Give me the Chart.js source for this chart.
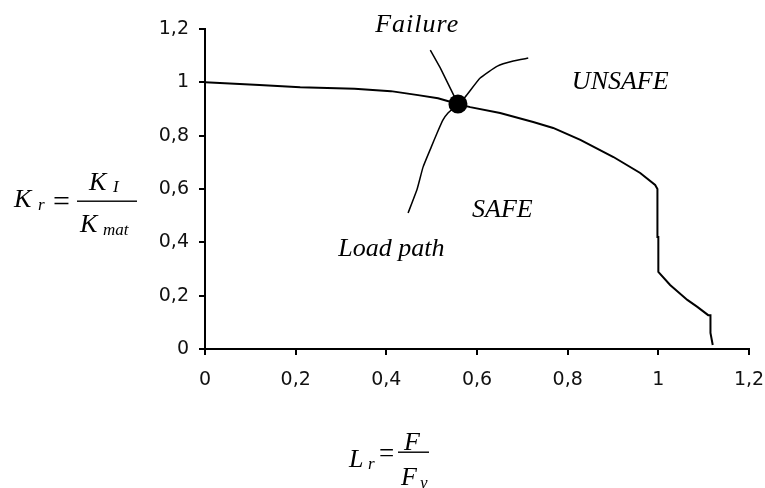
<!DOCTYPE html>
<html><head><meta charset="utf-8">
<script src="https://cdn.jsdelivr.net/npm/chart.js@4"></script>
<style>html,body{margin:0;padding:0;background:#fff;} canvas{display:block;}</style>
</head><body>
<canvas id="c" width="765" height="488"></canvas>
<script>
// Failure assessment diagram (FAD) curve
const fadL = [0, 0.12, 0.21, 0.33, 0.41, 0.47, 0.514, 0.558, 0.585, 0.651, 0.724, 0.768, 0.828, 0.901, 0.96, 0.993, 0.998, 0.998, 1.0, 1.0, 1.026, 1.064, 1.086, 1.11, 1.115, 1.115, 1.12];
const fadK = [1, 0.99, 0.982, 0.976, 0.967, 0.952, 0.94, 0.919, 0.907, 0.885, 0.851, 0.829, 0.784, 0.72, 0.66, 0.615, 0.6, 0.42, 0.42, 0.289, 0.24, 0.184, 0.158, 0.127, 0.127, 0.06, 0.015];
// Load path
const loadL = [0.448, 0.468, 0.481, 0.499, 0.512, 0.525, 0.536, 0.558, 0.574, 0.607, 0.645, 0.68, 0.713];
const loadK = [0.51, 0.60, 0.682, 0.757, 0.81, 0.859, 0.885, 0.919, 0.945, 1.016, 1.061, 1.08, 1.091];
// Failure pointer line
const failureL = [0.497, 0.519, 0.545, 0.558];
const failureK = [1.121, 1.054, 0.964, 0.919];
// Failure point
const failurePointL = [0.558];
const failurePointK = [0.919];
// Tick labels
const xTickLabels = ['0', '0,2', '0,4', '0,6', '0,8', '1', '1,2'];
const yTickLabels = ['0', '0,2', '0,4', '0,6', '0,8', '1', '1,2'];
// Region annotations (text, anchor in data units)
const regionTexts = ['Failure', 'UNSAFE', 'SAFE', 'Load path'];
const regionL = [0.468, 0.916, 0.656, 0.411];
const regionK = [1.189, 0.975, 0.495, 0.349];

const pts = (xs, ys) => xs.map((x, i) => ({x: x, y: ys[i]}));
const SERIF = '"Liberation Serif", "Times New Roman", serif';
const SANS = '"DejaVu Sans", Verdana, sans-serif';

const annotationPlugin = {
  id: 'annotations',
  afterDraw(chart) {
    const ctx = chart.ctx;
    const xs = chart.scales.x, ys = chart.scales.y;
    ctx.save();
    ctx.fillStyle = '#000';
    ctx.textBaseline = 'alphabetic';
    ctx.textAlign = 'center';
    ctx.font = 'italic 26px ' + SERIF;
    regionTexts.forEach((t, i) => {
      ctx.letterSpacing = (t === 'Failure') ? '1px' : '0px';
      ctx.fillText(t, xs.getPixelForValue(regionL[i]), ys.getPixelForValue(regionK[i]));
    });
    ctx.letterSpacing = '0px';
    // axis title formulas
    ctx.textAlign = 'left';
    const put = (s, x, y, size, italic) => {
      ctx.font = (italic ? 'italic ' : '') + size + 'px ' + SERIF;
      ctx.fillText(s, x, y);
    };
    // K_r = K_I / K_mat
    put('K', 14, 207, 26, true);
    put('r', 38, 210, 17, true);
    put('=', 53, 211, 30, false);
    ctx.fillRect(77, 200.5, 60, 1.4);
    put('K', 89, 190, 26, true);
    put('I', 113, 192, 17, true);
    put('K', 80, 232, 26, true);
    put('mat', 103, 235, 17, true);
    // L_r = F / F_y
    put('L', 349, 467, 26, true);
    put('r', 368, 469, 17, true);
    put('=', 379, 462, 27, false);
    ctx.fillRect(398, 451.5, 31, 1.4);
    put('F', 404, 450, 26, true);
    put('F', 401, 485, 26, true);
    put('y', 420, 488, 17, true);
    ctx.restore();
  }
};

const axisCommon = {
  type: 'linear',
  min: 0,
  max: 1.2,
  border: {display: true, color: '#000', width: 2},
  grid: {display: true, drawOnChartArea: false, drawTicks: true, tickLength: 6, color: '#000', lineWidth: 2},
};

new Chart(document.getElementById('c'), {
  type: 'scatter',
  data: {
    datasets: [
      {data: pts(fadL, fadK), showLine: true, borderColor: '#000', borderWidth: 2, pointRadius: 0, tension: 0},
      {data: pts(loadL, loadK), showLine: true, borderColor: '#000', borderWidth: 1.5, pointRadius: 0, tension: 0.15},
      {data: pts(failureL, failureK), showLine: true, borderColor: '#000', borderWidth: 1.5, pointRadius: 0, tension: 0},
      {data: pts(failurePointL, failurePointK), showLine: false, pointRadius: 9.5, pointBackgroundColor: '#000', pointBorderColor: '#000', pointBorderWidth: 0}
    ]
  },
  options: {
    responsive: false,
    animation: false,
    devicePixelRatio: 1,
    layout: {padding: {top: 29, right: 16, left: 0, bottom: 0}},
    plugins: {legend: {display: false}, tooltip: {enabled: false}},
    scales: {
      x: Object.assign({}, axisCommon, {
        position: 'bottom',
        ticks: {stepSize: 0.2, padding: 14, color: '#111', font: {family: SANS, size: 19},
          maxRotation: 0, autoSkip: false, callback: (v, i) => xTickLabels[i]},
        afterFit: (s) => { s.height = 139; s.paddingLeft = 0; s.paddingRight = 0; }
      }),
      y: Object.assign({}, axisCommon, {
        position: 'left',
        ticks: {stepSize: 0.2, padding: 10, color: '#111', font: {family: SANS, size: 19},
          autoSkip: false, callback: (v, i) => yTickLabels[i]},
        afterFit: (s) => { s.width = 205; s.paddingTop = 0; s.paddingBottom = 0; }
      })
    }
  },
  plugins: [annotationPlugin]
});
</script>
</body></html>
